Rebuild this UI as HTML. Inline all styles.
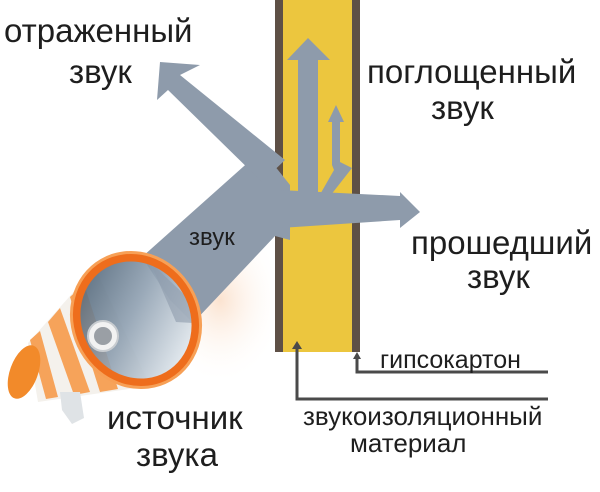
<!DOCTYPE html>
<html><head><meta charset="utf-8"><style>
html,body{margin:0;padding:0;background:#fff;}
svg{display:block;}
text{font-family:"Liberation Sans",sans-serif;fill:#1e1e1e;}
</style></head><body>
<svg width="600" height="492" viewBox="0 0 600 492" xmlns="http://www.w3.org/2000/svg">
<defs>
<radialGradient id="glow" cx="0.5" cy="0.5" r="0.5">
<stop offset="0" stop-color="#fbe3d0"/><stop offset="1" stop-color="#ffffff" stop-opacity="0"/>
</radialGradient>
<linearGradient id="inner" x1="0" y1="0" x2="0.6" y2="1">
<stop offset="0" stop-color="#3f5569"/><stop offset="0.55" stop-color="#8fa0b1"/><stop offset="1" stop-color="#dfe6ec"/>
</linearGradient>
</defs>
<ellipse cx="220" cy="300" rx="65" ry="85" fill="url(#glow)"/>
<!-- wall -->
<rect x="275" y="0" width="85" height="352" fill="#5e5046"/>
<rect x="283" y="0" width="69" height="352" fill="#ecc63e"/>
<!-- megaphone body -->
<polygon points="95,268 28,343 38,402 150,386" fill="#f4f1ec"/>
<polygon points="48,322 60,308 90,392 74,395" fill="#f6a35a"/>
<polygon points="70,297 84,284 118,389 100,392" fill="#f6a35a"/>
<polygon points="30,340 40,331 58,397 46,399" fill="#f6a35a"/>
<ellipse cx="24" cy="372" rx="14" ry="28" transform="rotate(20 24 372)" fill="#f28a2a"/>
<path d="M60,392 L80,392 L84,418 L72,424 L62,410 Z" fill="#dfe3e6"/>
<!-- beams -->
<g fill="#8e9bab">
<polygon points="142,257 262,150 290,185 290,240 275,236 193,323 170,300"/>
<polygon points="180,75 200,65 160,62 157,100 168,90 262,182 285,160"/>
<polygon points="280,190 400,196 400,192 420,212 400,228 400,220 280,228"/>
<polygon points="298,60 287,60 308,38 330,60 318,60 318,200 298,200"/>
<polygon points="332,122 328,122 336,105 344,122 340,122 340,162 352,168 323,205 318,198 334,170 332,165"/>
</g>
<!-- ring -->
<ellipse cx="136" cy="320" rx="58" ry="64" transform="rotate(-30 136 320)" fill="url(#inner)" opacity="0.9"/>
<polygon points="150,262 190,300 193,323 176,322" fill="#8e9bab" opacity="0.6"/>
<ellipse cx="136" cy="320" rx="58" ry="64" transform="rotate(-30 136 320)" fill="none" stroke="#ee6d1c" stroke-width="8"/>
<ellipse cx="136" cy="320" rx="63" ry="69" transform="rotate(-30 136 320)" fill="none" stroke="#f7a056" stroke-width="3"/>
<circle cx="103" cy="336" r="15" fill="#f2f2f2" stroke="#c8ccd0" stroke-width="2"/>
<circle cx="103" cy="336" r="9" fill="#9a9fa5"/>
<!-- leaders -->
<g stroke="#4a4a4a" stroke-width="3" fill="none">
<polyline points="297,347 297,399 548,399"/>
<polyline points="357,356 357,372 548,372"/>
</g>
<polygon points="297,341 292,349 302,349" fill="#4a4a4a"/>
<polygon points="357,352 353,359 361,359" fill="#4a4a4a"/>
<!-- labels -->
<g font-size="33">
<text x="4" y="42">отраженный</text>
<text x="69" y="83">звук</text>
<text x="367" y="83">поглощенный</text>
<text x="431" y="119">звук</text>
<text x="411" y="254">прошедший</text>
<text x="467" y="288">звук</text>
<text x="107" y="429">источник</text>
<text x="136" y="466">звука</text>
</g>
<text x="189" y="245" font-size="24">звук</text>
<text x="380" y="368" font-size="25">гипсокартон</text>
<text x="303" y="425" font-size="26">звукоизоляционный</text>
<text x="350" y="452" font-size="26">материал</text>
</svg>
</body></html>
